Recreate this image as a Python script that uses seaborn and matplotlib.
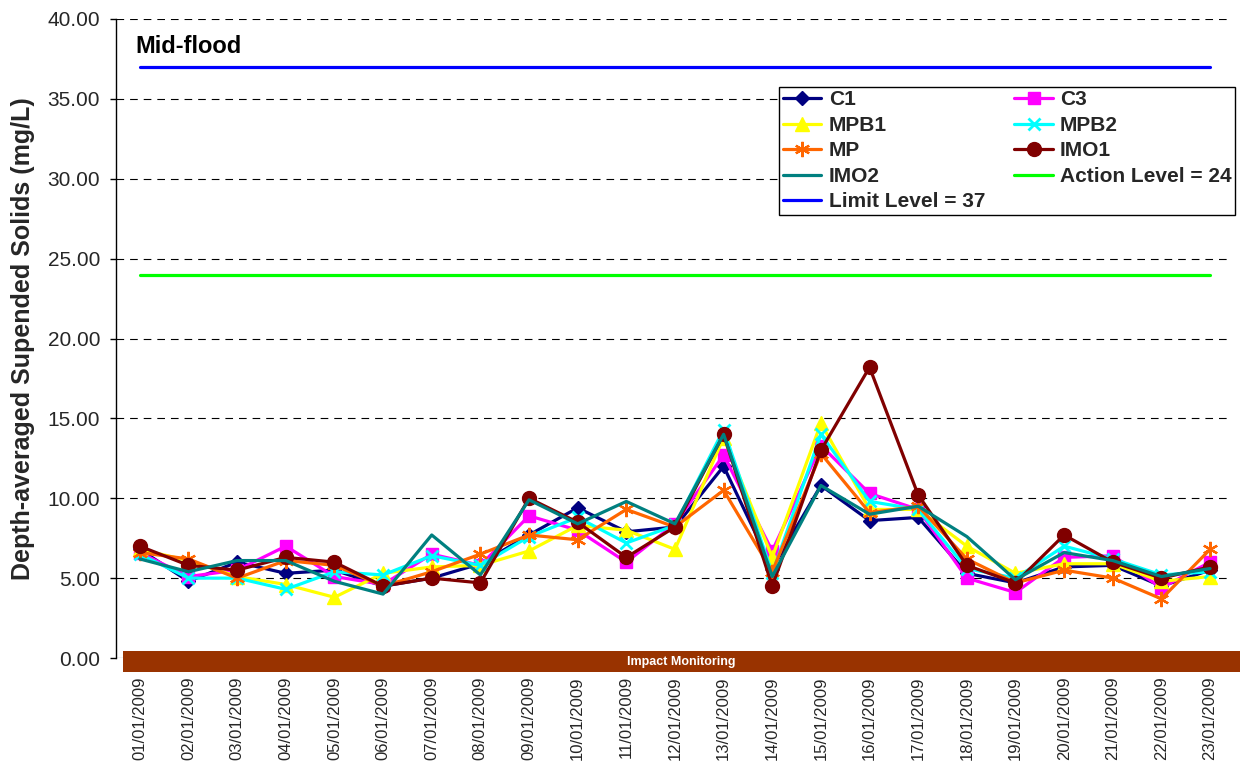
import matplotlib
matplotlib.use("Agg")
import matplotlib.pyplot as plt
from matplotlib.lines import Line2D
from matplotlib.patches import Rectangle
import seaborn as sns
import numpy as np

# ---------------- data ----------------
dates = ["01/01/2009", "02/01/2009", "03/01/2009", "04/01/2009", "05/01/2009",
         "06/01/2009", "07/01/2009", "08/01/2009", "09/01/2009", "10/01/2009",
         "11/01/2009", "12/01/2009", "13/01/2009", "14/01/2009", "15/01/2009",
         "16/01/2009", "17/01/2009", "18/01/2009", "19/01/2009", "20/01/2009",
         "21/01/2009", "22/01/2009", "23/01/2009"]

C1   = [6.8, 4.8, 6.0, 5.3, 5.5, 4.5, 5.0, 5.9, 7.7, 9.4, 7.9, 8.2, 12.0, 5.6, 10.8, 8.6, 8.8, 5.3, 4.7, 5.7, 5.8, 4.5, 5.5]
C3   = [6.6, 5.1, 5.5, 7.0, 5.1, 4.6, 6.5, 5.8, 8.9, 8.0, 6.0, 8.4, 12.7, 6.7, 13.3, 10.3, 9.3, 5.0, 4.1, 6.3, 6.4, 4.4, 6.0]
MPB1 = [6.8, 6.1, 5.1, 4.6, 3.8, 5.3, 5.7, 5.8, 6.7, 8.3, 8.0, 6.8, 13.8, 6.3, 14.7, 9.3, 9.3, 7.0, 5.3, 5.9, 5.9, 4.8, 5.1]
MPB2 = [6.5, 5.0, 5.0, 4.3, 5.4, 5.2, 6.4, 5.8, 7.6, 8.8, 7.2, 8.3, 14.3, 5.3, 14.0, 9.8, 9.3, 5.6, 5.0, 7.0, 6.2, 5.2, 5.4]
MP   = [6.6, 6.2, 5.0, 6.1, 5.8, 4.5, 5.4, 6.5, 7.7, 7.4, 9.3, 8.2, 10.5, 5.4, 12.8, 9.1, 9.5, 6.2, 4.7, 5.5, 5.0, 3.7, 6.8]
IMO1 = [7.0, 5.8, 5.5, 6.3, 6.0, 4.5, 5.0, 4.7, 10.0, 8.5, 6.3, 8.2, 14.0, 4.5, 13.0, 18.2, 10.2, 5.8, 4.7, 7.7, 6.0, 5.0, 5.7]
IMO2 = [6.2, 5.4, 6.1, 6.1, 4.8, 4.0, 7.7, 5.2, 9.9, 8.4, 9.8, 8.4, 14.0, 5.1, 10.8, 9.0, 9.5, 7.6, 4.9, 6.6, 6.1, 5.1, 5.6]

action_level = 24
limit_level = 37

y_ticks = [0, 5, 10, 15, 20, 25, 30, 35, 40]
y_label = "Depth-averaged Supended Solids (mg/L)"
title_text = "Mid-flood"
band_text = "Impact Monitoring"

# ---------------- style ----------------
sns.set_theme(style="white")
plt.rcParams["font.family"] = ["Liberation Sans", "DejaVu Sans"]
plt.rcParams["lines.scale_dashes"] = False

fig = plt.figure(figsize=(12.41, 7.61), dpi=100)
ax = fig.add_axes([116 / 1241, 1 - 658 / 761, (1231 - 116) / 1241, (658 - 19) / 761])

xpos = np.arange(len(dates))

series = [
    ("C1", C1, "#000080", "D", 7.5, 1.0),
    ("C3", C3, "#FF00FF", "s", 8.5, 1.0),
    ("MPB1", MPB1, "#FFFF00", "^", 9.5, 1.0),
    ("MPB2", MPB2, "#00FFFF", "x", 9.0, 2.0),
    ("MP", MP, "#FF6600", (6, 2, 0), 11.0, 1.6),
    ("IMO1", IMO1, "#800000", "o", 10.0, 1.0),
    ("IMO2", IMO2, "#008080", None, 0, 1.0),
]

handles = {}
for name, vals, col, mk, ms, mew in series:
    kw = dict(color=col, linewidth=2.3)
    if mk is not None:
        kw.update(marker=mk, markersize=ms, markeredgecolor=col,
                  markerfacecolor=col, markeredgewidth=mew)
    sns.lineplot(x=xpos, y=vals, ax=ax, legend=False, **kw)
    handles[name] = Line2D([], [], **kw)

sns.lineplot(x=[xpos[0], xpos[-1]], y=[action_level, action_level], ax=ax,
             color="#00FF00", linewidth=2.3, legend=False)
sns.lineplot(x=[xpos[0], xpos[-1]], y=[limit_level, limit_level], ax=ax,
             color="#0000FF", linewidth=2.3, legend=False)
handles["Action Level = 24"] = Line2D([], [], color="#00FF00", linewidth=2.3)
handles["Limit Level = 37"] = Line2D([], [], color="#0000FF", linewidth=2.3)

# axes
ax.set_xlim(-0.49, 22.43)
ax.set_ylim(0, 40)
ax.set_yticks(y_ticks)
ax.set_yticklabels([f"{v:.2f}" for v in y_ticks], fontsize=15)
ax.set_xticks(xpos)
ax.set_xticklabels(dates, rotation=90, fontsize=12)
ax.tick_params(axis="x", length=0, pad=13)
ax.tick_params(axis="y", length=4.5, width=1, direction="out", pad=7, left=True,
               color="black")
for s in ["top", "right", "bottom"]:
    ax.spines[s].set_visible(False)
ax.spines["left"].set_color("black")
ax.spines["left"].set_linewidth(1)
ax.yaxis.grid(True, linestyle=(0, (5.5, 4.3)), color="black", linewidth=0.8)
ax.xaxis.grid(False)
ax.set_axisbelow(True)

ax.set_ylabel(y_label, fontsize=18, fontweight="bold")
ax.yaxis.set_label_coords(-0.0726, 0.5)

# title text inside plot
ax.text(0.017, 0.947, title_text, transform=ax.transAxes, fontsize=17,
        fontweight="bold", va="baseline", ha="left", color="black")

# brown band at bottom
band = Rectangle((0.006, -0.022), 1.002, 0.033, transform=ax.transAxes,
                 facecolor="#993300", edgecolor="none", clip_on=False, zorder=5)
ax.add_patch(band)
ax.text(0.507, -0.0055, band_text, transform=ax.transAxes, fontsize=9,
        fontweight="bold", color="white", ha="center", va="center", zorder=6)

# legend (column-major ordering to get row-wise appearance)
order = ["C1", "MPB1", "MP", "IMO2", "Limit Level = 37",
         "C3", "MPB2", "IMO1", "Action Level = 24"]
leg = ax.legend([handles[k] for k in order], order, ncol=2, loc="upper right",
                bbox_to_anchor=(1.004, 0.894), prop={"size": 15, "weight": "bold"},
                frameon=True, fancybox=False, shadow=False, framealpha=1,
                edgecolor="black", handlelength=1.85, handletextpad=0.35,
                columnspacing=1.4, labelspacing=0.31, borderpad=0.18,
                borderaxespad=0)
leg.get_frame().set_linewidth(1.0)

fig.savefig("out.png", dpi=100, facecolor="white")
